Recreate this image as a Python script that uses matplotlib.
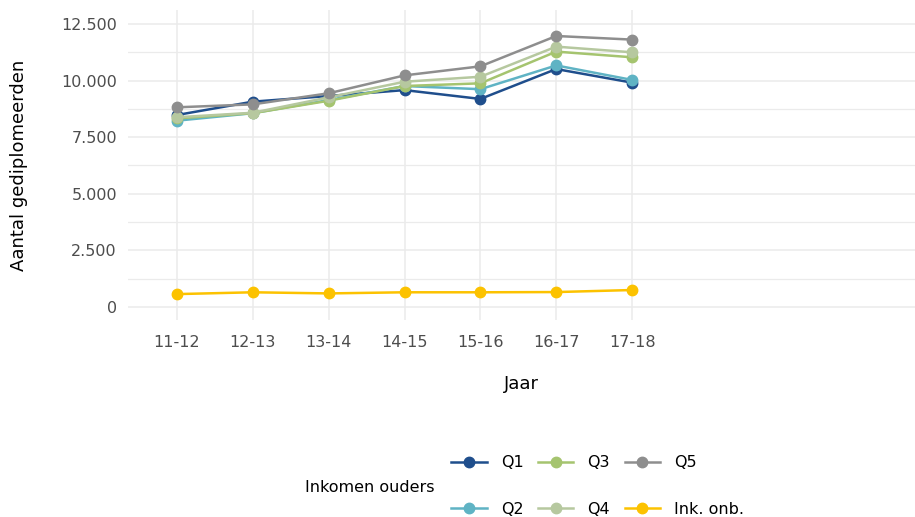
import matplotlib
matplotlib.use("Agg")
import matplotlib.pyplot as plt
from matplotlib.ticker import FuncFormatter, MultipleLocator

# academic years
jaren = ["11-12", "12-13", "13-14", "14-15", "15-16", "16-17", "17-18"]

# number of graduates per parental income quintile
q1 = [8480, 9070, 9320, 9580, 9190, 10510, 9910]
q2 = [8230, 8560, 9140, 9760, 9620, 10670, 10030]
q3 = [8330, 8560, 9110, 9760, 9880, 11280, 11030]
q4 = [8380, 8580, 9260, 9950, 10170, 11500, 11250]
q5 = [8820, 8950, 9440, 10230, 10630, 11970, 11810]
onb = [570, 650, 600, 650, 650, 660, 750]

labels = ["Q1", "Q2", "Q3", "Q4", "Q5", "Ink. onb."]
kleuren = ["#1f4e8c", "#5fb3c4", "#a5c46f", "#b6c89f", "#8e8e8e", "#fcc200"]
reeksen = [q1, q2, q3, q4, q5, onb]

fig = plt.figure(figsize=(9.15, 5.17), dpi=100)
ax = fig.add_axes([128/915, 1-320/517, 1-128/915, 310/517])

x = range(len(jaren))
handles = []
for vals, lab, col in zip(reeksen, labels, kleuren):
    h, = ax.plot(x, vals, "-o", color=col, lw=1.8, ms=7.5, label=lab)
    handles.append(h)

ax.set_xlim(-0.646, 9.73)
ax.set_ylim(-574, 13118)
ax.set_xticks(list(x))
ax.set_xticklabels(jaren)
ax.yaxis.set_major_locator(MultipleLocator(2500))
ax.yaxis.set_minor_locator(MultipleLocator(1250))
ax.yaxis.set_major_formatter(FuncFormatter(lambda v, p: "{:,.0f}".format(v).replace(",", ".")))

ax.grid(True, which="major", color="#ebebeb", lw=1.1)
ax.grid(True, which="minor", axis="y", color="#ebebeb", lw=0.9)
ax.set_axisbelow(True)
for s in ax.spines.values():
    s.set_visible(False)
ax.tick_params(which="both", length=0, labelsize=11.5, labelcolor="#4d4d4d")
ax.tick_params(axis="x", pad=11)
ax.tick_params(axis="y", pad=8)

ax.set_xlabel("Jaar", fontsize=13, labelpad=18)
ax.set_ylabel("Aantal gediplomeerden", fontsize=13, labelpad=24)

fig.text(305/915, 1-488/517, "Inkomen ouders", fontsize=11.5, va="center", ha="left")
fig.legend(handles=handles, labels=labels, ncol=3, loc="center left",
           bbox_to_anchor=(437/915, 1-486/517), frameon=False,
           fontsize=11.5, handlelength=2.2, columnspacing=0.9,
           labelspacing=1.95, handletextpad=0.9)

fig.savefig("out.png", dpi=100)
